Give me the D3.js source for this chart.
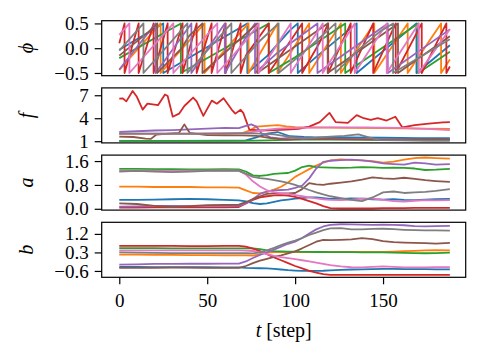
<!DOCTYPE html>
<html>
<head>
<meta charset="utf-8">
<script src="https://cdn.jsdelivr.net/npm/d3@7"></script>
<style>
  body { margin: 0; background: #fff; }
  svg { display: block; }
  .axis text { font-family: "Liberation Serif", "Times New Roman", Tinos, "DejaVu Serif", "Noto Serif", serif; font-size: 19px; fill: #000; }
  .axis line { stroke: #000; stroke-width: 1.2; }
  .lbl { font-family: "Liberation Serif", "Times New Roman", Tinos, "DejaVu Serif", "Noto Serif", serif; font-size: 20px; }
</style>
</head>
<body>
<div id="vis"></div>
<script>
// tab10 order: blue, orange, green, red, purple, brown, pink, gray
var colors = ["#1f77b4", "#ff7f0e", "#2ca02c", "#d62728", "#9467bd", "#8c564b", "#e377c2", "#7f7f7f"];

var xTicks = [0, 50, 100, 150];
var phiTicks = [-0.5, 0, 0.5];
var fTicks = [1, 4, 7];
var aTicks = [0, 0.8, 1.6];
var bTicks = [-0.6, 0.3, 1.2];

// phase: [step, phi] vertices
var phiPoints = [
  [[0,-0.03],[25,0.5],[25,-0.5],[72.8,0.5],[72.8,-0.5],[84,-0.16],[97,0.36],[101.5,0.5],[101.5,-0.5],[112,-0.175],[135,0.5],[135,-0.5],[169,0.5],[169,-0.5],[188,0.06]],
  [[0,-0.44],[23.5,0.5],[23.5,-0.5],[48.5,0.5],[48.5,-0.5],[73.5,0.5],[73.5,-0.5],[90,0.5],[90,-0.5],[108,0.5],[108,-0.5],[126,0.5],[126,-0.5],[145,0.5],[145,-0.5],[164,0.5],[164,-0.5],[183,0.5],[183,-0.5],[188,-0.23]],
  [[0,-0.2],[35,0.5],[35,-0.5],[85,0.5],[85,-0.5],[100,-0.185],[128.5,0.5],[128.5,-0.5],[170,0.5],[170,-0.5],[188,-0.07]],
  [[0,0.1],[3,0.5],[3,-0.5],[11,0.5],[11,-0.5],[19.5,0.5],[19.5,-0.5],[27.5,0.5],[27.5,-0.5],[36,0.5],[36,-0.5],[44,0.5],[44,-0.5],[52.5,0.5],[52.5,-0.5],[60.5,0.5],[60.5,-0.5],[69,0.5],[69,-0.5],[72,-0.15],[85,0.5],[85,-0.5],[104,0.5],[104,-0.5],[114,0.12],[118.8,0.5],[118.8,-0.5],[131.6,0.5],[131.6,-0.5],[144.4,0.5],[144.4,-0.5],[157.2,0.5],[157.2,-0.5],[172,0.5],[172,-0.5],[186,0.5],[186,-0.5],[188,-0.37]],
  [[0,-0.43],[20.7,0.5],[20.7,-0.5],[41,0.5],[41,-0.5],[60,0.5],[60,-0.5],[74,0.34],[77.2,0.5],[77.2,-0.5],[90,-0.09],[112.7,0.5],[112.7,-0.5],[152.7,0.5],[152.7,-0.5],[188,0.38]],
  [[0,-0.15],[18,0.37],[21.6,0.5],[21.6,-0.5],[35,-0.02],[40,0.26],[47.3,0.5],[47.3,-0.5],[78.5,0.5],[78.5,-0.5],[118.5,0.5],[118.5,-0.5],[158.5,0.5],[158.5,-0.5],[188,0.24]],
  [[0,0.27],[5.75,0.5],[5.75,-0.5],[30.75,0.5],[30.75,-0.5],[55.75,0.5],[55.75,-0.5],[72,0.15],[79.3,0.5],[79.3,-0.5],[97.5,0.5],[97.5,-0.5],[115.7,0.5],[115.7,-0.5],[133.9,0.5],[133.9,-0.5],[152.1,0.5],[152.1,-0.5],[170.3,0.5],[170.3,-0.5],[188,0.385]],
  [[0,-0.05],[13.75,0.5],[13.75,-0.5],[38.75,0.5],[38.75,-0.5],[63.75,0.5],[63.75,-0.5],[80,0.15],[90.6,0.5],[90.6,-0.5],[103,-0.14],[123,0.5],[123,-0.5],[136,-0.03],[148,0.33],[155.7,0.5],[155.7,-0.5],[188,0.18]]
];

// frequency: [step, f]
var fPoints = [
  [[0,1.05],[30,1.05],[60,1.07],[72,1.1],[78,1.5],[84,2.0],[90,2.2],[97,1.65],[105,1.55],[112,1.5],[130,1.5],[150,1.45],[170,1.4],[188,1.4]],
  [[0,1.95],[20,1.97],[40,2.0],[60,2.0],[70,2.05],[74,2.4],[78,2.9],[84,3.0],[90,3.1],[95,2.95],[100,2.85],[110,2.8],[130,2.75],[150,2.7],[170,2.65],[188,2.6]],
  [[0,1.05],[40,1.05],[70,1.05],[85,1.1],[100,1.2],[130,1.2],[160,1.15],[188,1.15]],
  [[0,6.57],[2,6.6],[4,6.2],[7.6,7.56],[10,6.8],[13.3,5.13],[16,5.9],[19,5.8],[22,5.7],[26,7.1],[27.5,6.9],[30.4,4.2],[34,4.6],[37,5.6],[42,6.7],[44,6.2],[47.8,4.3],[52.6,6.3],[55.5,5.9],[59.3,6.6],[64,5.1],[66,4.6],[69,5.1],[70.5,4.7],[74,2.5],[80,2.4],[88,2.45],[95,2.5],[102,2.6],[108,2.9],[114,3.5],[119.5,4.7],[123,3.5],[130,3.4],[135,4.4],[139,4.0],[143,3.8],[147,4.0],[152,3.7],[157,4.2],[161,2.8],[168,3.1],[176,3.3],[184,3.45],[188,3.5]],
  [[0,2.2],[10,2.3],[20,2.4],[30,2.45],[40,2.55],[50,2.65],[60,2.75],[68,2.7],[72,3.0],[75,3.2],[78,2.9],[81,2.0],[86,1.5],[92,1.35],[100,1.5],[110,1.35],[130,1.3],[150,1.25],[170,1.2],[188,1.2]],
  [[0,1.6],[8,1.55],[15,1.35],[18,1.3],[21,1.85],[28,2.0],[34,2.1],[37,3.2],[40,2.1],[50,1.8],[60,1.75],[70,1.75],[78,1.7],[86,1.4],[95,1.2],[110,1.3],[130,1.25],[150,1.2],[170,1.25],[188,1.25]],
  [[0,2.0],[20,2.0],[40,2.0],[60,2.05],[72,2.1],[78,2.3],[84,2.5],[90,2.65],[100,2.75],[120,2.8],[140,2.8],[160,2.75],[175,2.6],[188,2.45]],
  [[0,2.0],[20,2.0],[40,1.95],[60,2.0],[72,2.05],[80,2.0],[88,1.9],[96,1.6],[104,1.35],[112,1.45],[120,1.6],[128,1.7],[136,1.9],[142,1.5],[148,1.15],[160,1.1],[175,1.05],[188,1.05]]
];

// a and b share one step grid
var tAB = [0,10,20,30,40,50,60,68,72,76,80,84,88,92,96,100,104,108,112,116,120,126,132,138,144,150,156,162,168,174,180,188];

var aValues = [
  [0.30,0.30,0.31,0.32,0.33,0.32,0.30,0.28,0.25,0.19,0.16,0.18,0.23,0.28,0.31,0.34,0.36,0.38,0.38,0.36,0.33,0.33,0.35,0.34,0.32,0.31,0.32,0.30,0.29,0.31,0.32,0.33],
  [0.74,0.74,0.73,0.73,0.73,0.72,0.72,0.71,0.62,0.53,0.52,0.57,0.64,0.74,0.88,1.07,1.20,1.33,1.45,1.55,1.62,1.66,1.64,1.62,1.60,1.55,1.58,1.65,1.70,1.72,1.70,1.68],
  [1.34,1.34,1.33,1.33,1.32,1.32,1.33,1.32,1.25,1.12,1.10,1.13,1.17,1.19,1.20,1.28,1.40,1.45,1.40,1.39,1.38,1.37,1.38,1.40,1.39,1.37,1.38,1.37,1.35,1.30,1.31,1.34],
  [0.04,0.04,0.05,0.05,0.05,0.05,0.05,0.06,0.18,0.30,0.38,0.42,0.45,0.46,0.44,0.40,0.33,0.26,0.18,0.09,0.02,0.01,0.01,0.01,0.01,0.02,0.02,0.02,0.03,0.03,0.03,0.03],
  [0.07,0.08,0.10,0.10,0.09,0.10,0.10,0.10,0.18,0.32,0.50,0.58,0.62,0.63,0.64,0.70,0.78,1.02,1.35,1.57,1.61,1.63,1.65,1.62,1.58,1.52,1.50,1.48,1.55,1.52,1.48,1.50],
  [0.18,0.16,0.10,0.06,0.09,0.12,0.13,0.14,0.22,0.33,0.42,0.50,0.52,0.52,0.52,0.53,0.66,0.86,0.82,0.80,0.84,0.88,0.92,0.98,1.05,1.02,1.00,1.04,1.00,0.96,0.93,0.90],
  [1.28,1.28,1.28,1.27,1.28,1.28,1.29,1.28,1.15,0.92,0.75,0.62,0.56,0.52,0.50,0.46,0.42,0.38,0.35,0.32,0.30,0.29,0.31,0.34,0.34,0.30,0.26,0.24,0.27,0.29,0.28,0.29],
  [1.25,1.27,1.25,1.23,1.25,1.27,1.28,1.27,1.18,1.07,1.03,1.00,0.96,0.92,0.87,0.80,0.72,0.63,0.55,0.48,0.42,0.36,0.30,0.26,0.38,0.55,0.58,0.53,0.55,0.57,0.60,0.66]
];

var bValues = [
  [-0.40,-0.40,-0.41,-0.41,-0.42,-0.42,-0.43,-0.43,-0.45,-0.46,-0.47,-0.48,-0.50,-0.53,-0.56,-0.58,-0.60,-0.60,-0.60,-0.59,-0.57,-0.55,-0.53,-0.52,-0.51,-0.50,-0.50,-0.51,-0.51,-0.51,-0.52,-0.52],
  [0.19,0.19,0.18,0.18,0.17,0.17,0.16,0.16,0.16,0.15,0.22,0.29,0.31,0.31,0.31,0.31,0.31,0.32,0.32,0.32,0.32,0.32,0.33,0.33,0.33,0.33,0.34,0.36,0.38,0.40,0.41,0.40],
  [0.51,0.51,0.51,0.50,0.50,0.50,0.50,0.50,0.50,0.50,0.46,0.40,0.36,0.35,0.34,0.34,0.33,0.33,0.32,0.32,0.31,0.31,0.31,0.30,0.30,0.30,0.29,0.28,0.27,0.26,0.27,0.29],
  [0.62,0.62,0.62,0.62,0.61,0.61,0.62,0.62,0.58,0.48,0.36,0.21,0.06,-0.08,-0.22,-0.36,-0.48,-0.60,-0.68,-0.75,-0.79,-0.79,-0.79,-0.79,-0.79,-0.79,-0.79,-0.79,-0.79,-0.79,-0.79,-0.79],
  [-0.29,-0.28,-0.26,-0.26,-0.25,-0.25,-0.24,-0.24,-0.14,0.03,0.18,0.31,0.44,0.58,0.72,0.82,1.00,1.22,1.42,1.56,1.64,1.67,1.66,1.65,1.64,1.65,1.64,1.62,1.58,1.57,1.58,1.59],
  [-0.45,-0.45,-0.45,-0.44,-0.44,-0.45,-0.45,-0.45,-0.36,-0.22,-0.10,-0.01,0.08,0.16,0.25,0.35,0.50,0.66,0.82,0.91,0.90,0.91,0.93,0.99,0.95,0.85,0.80,0.78,0.76,0.75,0.73,0.76],
  [0.40,0.40,0.40,0.40,0.40,0.40,0.40,0.40,0.39,0.37,0.30,0.22,0.13,0.07,0.02,-0.03,-0.08,-0.14,-0.20,-0.26,-0.32,-0.38,-0.42,-0.43,-0.40,-0.38,-0.40,-0.43,-0.43,-0.43,-0.42,-0.41],
  [0.30,0.29,0.28,0.27,0.27,0.27,0.26,0.26,0.26,0.25,0.30,0.40,0.52,0.66,0.78,0.88,1.00,1.15,1.26,1.38,1.47,1.48,1.42,1.42,1.44,1.45,1.43,1.40,1.38,1.37,1.37,1.36]
];

var W = 482, H = 358;
var left = 101.7, right = 465.7;
var top0 = 20.7, gap = 67.2, ph = 55;
var serif = "'Liberation Serif', 'Times New Roman', Tinos, 'DejaVu Serif', 'Noto Serif', serif";

function pairUp(rows) {
  return rows.map(function(vals) { return vals.map(function(v, i) { return [tAB[i], v]; }); });
}

var panels = [
  {name: "ϕ", series: phiPoints, domain: [-0.555, 0.555], ticks: phiTicks, fmt: d3.format(".1f")},
  {name: "f", series: fPoints, domain: [0.78, 7.96], ticks: fTicks, fmt: d3.format("d")},
  {name: "a", series: pairUp(aValues), domain: [-0.044, 1.80], ticks: aTicks, fmt: d3.format(".1f")},
  {name: "b", series: pairUp(bValues), domain: [-0.909, 1.764], ticks: bTicks, fmt: d3.format(".1f")}
];

var svg = d3.select("#vis").append("svg")
  .attr("width", W)
  .attr("height", H)
  .attr("font-family", serif);

var x = d3.scaleLinear().domain([-10, 197]).range([left, right]);

panels.forEach(function(p, k) {
  var py = top0 + k * gap;
  var y = d3.scaleLinear().domain(p.domain).range([py + ph, py]);

  svg.append("clipPath").attr("id", "clip" + k)
    .append("rect")
    .attr("x", left).attr("y", py)
    .attr("width", right - left).attr("height", ph);

  var line = d3.line()
    .x(function(d) { return x(d[0]); })
    .y(function(d) { return y(d[1]); });

  svg.append("g")
    .attr("clip-path", "url(#clip" + k + ")")
    .selectAll("path")
    .data(p.series)
    .enter().append("path")
    .attr("d", line)
    .attr("fill", "none")
    .attr("stroke", function(d, i) { return colors[i]; })
    .attr("stroke-width", 1.8)
    .attr("stroke-linejoin", "round");

  var ax = svg.append("g")
    .attr("class", "axis")
    .attr("transform", "translate(" + left + ",0)")
    .call(d3.axisLeft(y).tickValues(p.ticks).tickFormat(p.fmt).tickSize(7).tickPadding(6));
  ax.attr("font-family", serif);
  ax.select(".domain").remove();

  svg.append("rect")
    .attr("x", left).attr("y", py)
    .attr("width", right - left).attr("height", ph)
    .attr("fill", "none")
    .attr("stroke", "#000")
    .attr("stroke-width", 1.2);

  svg.append("text")
    .attr("class", "lbl")
    .attr("transform", "translate(33," + (py + ph / 2) + ") rotate(-90)")
    .attr("text-anchor", "middle")
    .attr("font-style", "italic")
    .text(p.name);

  if (k === panels.length - 1) {
    var bx = svg.append("g")
      .attr("class", "axis")
      .attr("transform", "translate(0," + (py + ph) + ")")
      .call(d3.axisBottom(x).tickValues(xTicks).tickFormat(d3.format("d")).tickSize(7).tickPadding(9));
    bx.attr("font-family", serif);
    bx.select(".domain").remove();
  }
});

var xl = svg.append("text")
  .attr("class", "lbl")
  .attr("x", (left + right) / 2)
  .attr("y", 337)
  .attr("text-anchor", "middle");
xl.append("tspan").attr("font-style", "italic").text("t");
xl.append("tspan").text(" [step]");
</script>
</body>
</html>
